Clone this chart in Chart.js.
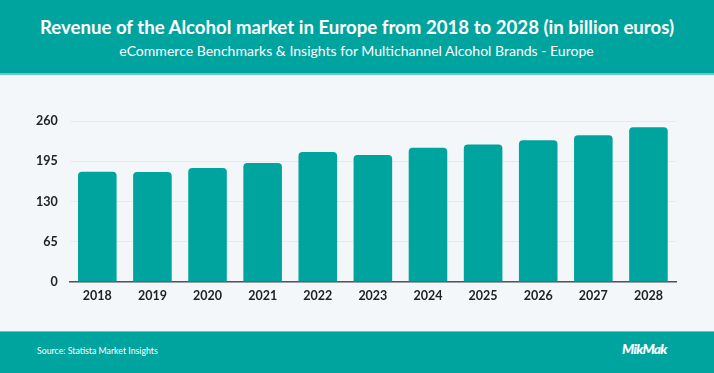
<!DOCTYPE html>
<html>
<head>
<meta charset="utf-8">
<script src="https://cdn.jsdelivr.net/npm/chart.js@4/dist/chart.umd.min.js"></script>
<style>
  html, body { margin: 0; padding: 0; }
  body { width: 714px; height: 373px; position: relative; overflow: hidden; background: #f4f7fa; font-family: Lato, "Open Sans", sans-serif; }
  #header { position: absolute; left: 0; top: 0; width: 714px; height: 75px; background: #00a49f; border-bottom: 2px solid #62c8c4; box-sizing: border-box; }
  .fit { position: absolute; white-space: nowrap; color: #fff; line-height: 1.2; }
  #title { top: 16px; font-weight: 700; font-size: 17.2px; }
  #subtitle { top: 43px; font-weight: 400; font-size: 14px; }
  #footer { position: absolute; left: 0; top: 331px; width: 714px; height: 42px; background: #00a49f; border-top: 1px solid #62c8c4; box-sizing: border-box; }
  #source { left: 37px; top: 14px; font-size: 9px; }
  #logo { left: 622px; top: 9px; font-size: 15px; font-weight: 900; font-style: italic; letter-spacing: -0.8px; }
  #wrap { position: absolute; left: 0; top: 75px; width: 714px; height: 256px; }
  canvas { display: block; }
</style>
</head>
<body>
<div id="header">
  <div id="title" class="fit">Revenue of the Alcohol market in Europe from 2018 to 2028 (in billion euros)</div>
  <div id="subtitle" class="fit">eCommerce Benchmarks &amp; Insights for Multichannel Alcohol Brands - Europe</div>
</div>
<div id="wrap"><canvas id="c" width="714" height="256"></canvas></div>
<div id="footer">
  <div id="source" class="fit">Source: Statista Market Insights</div>
  <div id="logo" class="fit">MikMak</div>
</div>
<script>
const years = ['2018','2019','2020','2021','2022','2023','2024','2025','2026','2027','2028'];
const revenue = [178, 177.5, 184, 192, 210, 205, 217, 222, 229, 237, 250];
const yTicks = [0, 65, 130, 195, 260];

// fit header/footer text widths to the reference
function fitText(id, targetW, centerX) {
  const el = document.getElementById(id);
  const fs = parseFloat(getComputedStyle(el).fontSize);
  const w = el.getBoundingClientRect().width;
  el.style.fontSize = (fs * targetW / w) + 'px';
  if (centerX !== undefined) {
    const w2 = el.getBoundingClientRect().width;
    el.style.left = (centerX - w2 / 2) + 'px';
  }
}
fitText('title', 634, 357);
fitText('subtitle', 475, 356.5);
fitText('source', 121);
fitText('logo', 45);

const teal = '#00a49f';
new Chart(document.getElementById('c'), {
  type: 'bar',
  data: {
    labels: years,
    datasets: [{
      data: revenue,
      backgroundColor: teal,
      borderRadius: { topLeft: 4, topRight: 4 },
      borderSkipped: 'bottom',
      categoryPercentage: 1,
      barPercentage: 0.7
    }]
  },
  options: {
    responsive: false,
    animation: false,
    devicePixelRatio: 1,
    layout: { padding: { left: 24, right: 38, top: 46, bottom: 22 } },
    plugins: { legend: { display: false }, tooltip: { enabled: false } },
    scales: {
      x: {
        grid: { display: false, drawTicks: false },
        border: { display: true, color: '#4f555b', width: 1.5 },
        ticks: { color: '#222', padding: 6, font: { family: 'Lato', size: 12.5, weight: '700' } }
      },
      y: {
        min: 0, max: 260,
        afterBuildTicks: (axis) => { axis.ticks = yTicks.map(v => ({ value: v })); },
        grid: { color: '#e6eaed', drawTicks: false, lineWidth: 1 },
        border: { display: false },
        ticks: { color: '#222', padding: 12, font: { family: 'Lato', size: 12.5, weight: '700' } }
      }
    }
  }
});
</script>
</body>
</html>
